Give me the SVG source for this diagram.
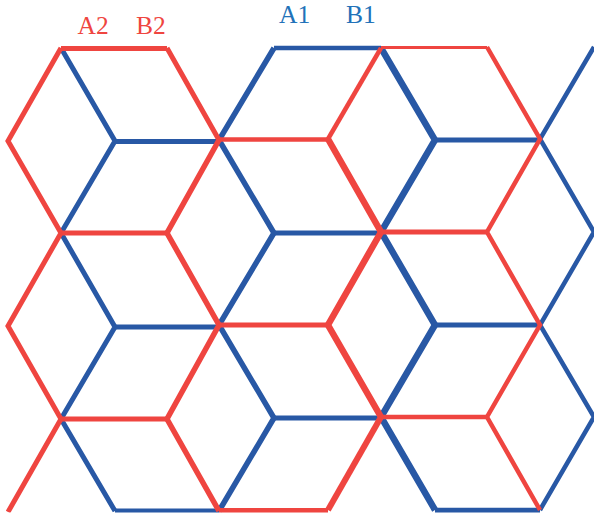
<svg xmlns="http://www.w3.org/2000/svg" width="594" height="517" viewBox="0 0 594 517">
<style>
.b{stroke:#2858a5;fill:none;stroke-linejoin:miter;stroke-linecap:butt}
.r{stroke:#ef4540;fill:none;stroke-linejoin:miter;stroke-linecap:butt}
.t{font-family:"Liberation Serif","Times New Roman",serif;font-size:25.500px}
</style>
<defs><clipPath id="page"><rect x="0" y="0" width="594" height="512.600"/></clipPath></defs>
<rect width="594" height="517" fill="#fff"/>
<g id="connectors" clip-path="url(#page)">
<g id="blue-lattice">
<path class="b" stroke-width="5" d="M61 48L115 141L61 233M61 233L115 327L61 419L115 511"/>
<path class="b" stroke-width="5" d="M115 141.500H219M115 327H219M115 511H219"/>
<path class="b" stroke-width="5.500" d="M219 511L274 418L219 325L274 233L219 140L274 48"/>
<path class="b" stroke-width="4.500" d="M274 48H381"/>
<path class="b" stroke-width="5" d="M274 233H381"/>
<path class="b" stroke-width="5" d="M274 418H381"/>
<path class="b" stroke-width="6.500" d="M381 48L435 140L381 232L435 325L381 417L435 510"/>
<path class="b" stroke-width="5" d="M435 140H540M435 325H540"/>
<path class="b" stroke-width="5.500" d="M435 510.500H540"/>
<path class="b" stroke-width="4.500" d="M594 47L540 139L594 232L540 325L594 417L540 510"/>
</g>
<g id="red-lattice">
<path class="r" stroke-width="5" d="M167 233H61M61 48.500H167M61 419H167"/>
<path class="r" stroke-width="5" d="M61 233L8 141L61 48M167 48L219 140M61 233L8 326L61 419L8 512"/>
<path class="r" stroke-width="5.500" d="M219 140L167 233L219 325L167 419L219 511"/>
<path class="r" stroke-width="4.500" d="M219 139.500H328"/>
<path class="r" stroke-width="5" d="M219 325H328"/>
<path class="r" stroke-width="4.500" d="M328 139L381 48"/>
<path class="r" stroke-width="6.500" d="M328 139L381 232L328 325L381 417"/>
<path class="r" stroke-width="6" d="M381 417L328 510"/>
<path class="r" stroke-width="5" d="M219 510.500H328"/>
<path class="r" stroke-width="3" d="M381 47.500H487"/>
<path class="r" stroke-width="4.500" d="M487 47L540 139L487 232L540 325L487 417L540 510"/>
<path class="r" stroke-width="5" d="M381 232H487"/>
<path class="r" stroke-width="4.500" d="M381 417H487"/>
</g>
</g>
<g id="label-A2"><text class="t" x="77.500" y="34" fill="#ef4540">A2</text></g>
<g id="label-B2"><text class="t" x="136" y="34" fill="#ef4540">B2</text></g>
<g id="label-A1"><text class="t" x="279" y="23" fill="#2272b9">A1</text></g>
<g id="label-B1"><text class="t" x="346" y="23" fill="#2272b9">B1</text></g>
</svg>
